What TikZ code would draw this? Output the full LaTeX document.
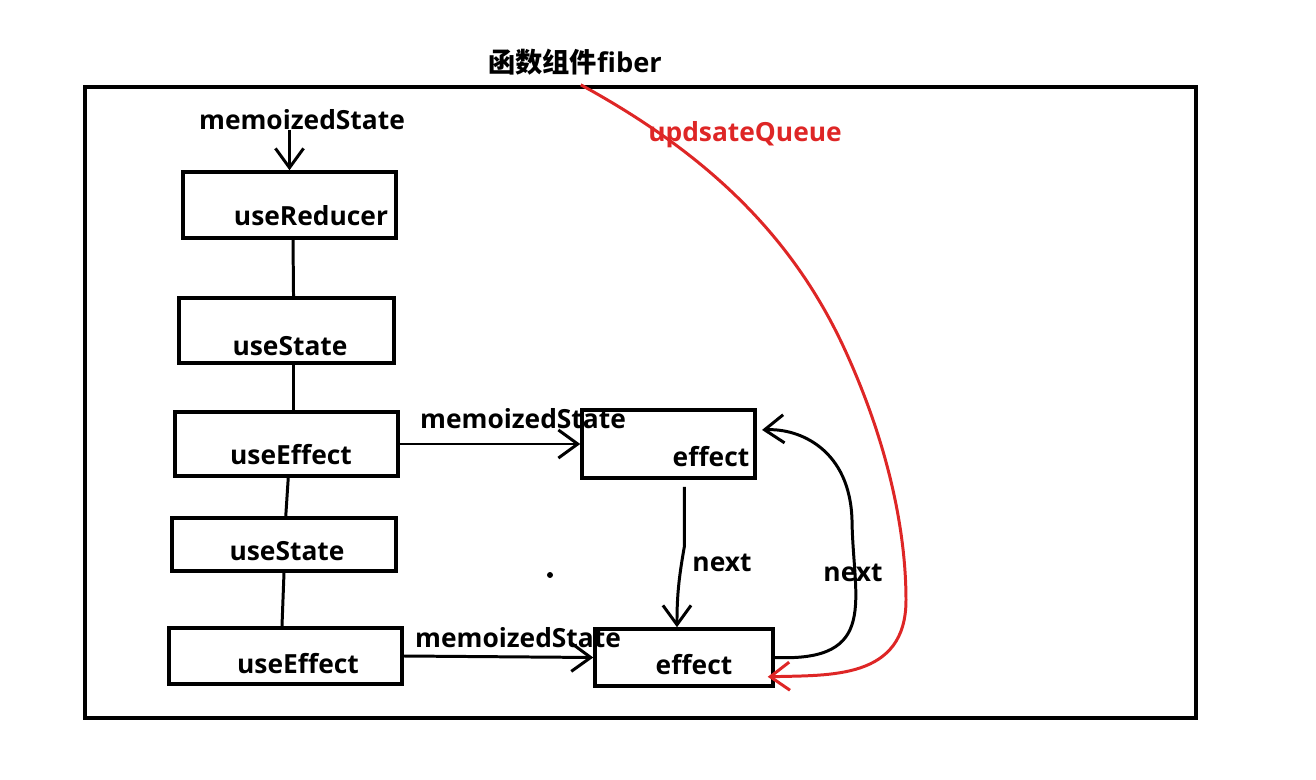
\documentclass[tikz,border=0pt]{standalone}
\usepackage{fontspec}
\setmainfont{Open Sans}
\newfontfamily\cjk{Noto Sans CJK SC}
\usetikzlibrary{arrows.meta}
\usetikzlibrary{fit}

\definecolor{queuered}{RGB}{222, 38, 38}

\tikzset{
    hookbox/.style={draw, line width=2pt, inner sep=0pt},
    hooktext/.style={font=\fontsize{15}{18}\selectfont\bfseries, inner sep=0pt},
    link/.style={line width=1.7pt},
    pointer/.style={line width=1.7pt, -{Straight Barb[length=11pt, width=16pt, line width=1.7pt]}},
}

\begin{document}
\begin{tikzpicture}[x=0.02cm, y=-0.02cm]

    \useasboundingbox (0, 0) rectangle (1316, 780);

    % The fiber frame
    \node[hookbox, line width=2.5pt, fit={(85, 87) (1196, 718)}] (fiber) {};
    \node[hooktext, font=\fontsize{15.5}{18}\selectfont\bfseries] (title) at (575, 62) {{\cjk 函数组件}fiber};

    % Hook list
    \node[hookbox, fit={(183, 172) (396, 238)}] (reducer) {};
    \node[hookbox, fit={(179, 298) (394, 363)}] (stateA) {};
    \node[hookbox, fit={(175, 412) (398, 476)}] (effectA) {};
    \node[hookbox, fit={(172, 518) (396, 571)}] (stateB) {};
    \node[hookbox, fit={(169, 628) (402, 684)}] (effectB) {};

    \node[hooktext] (reducerText) at (311, 216) {useReducer};
    \node[hooktext] (stateAText) at (290, 346) {useState};
    \node[hooktext] (effectAText) at (291, 455) {useEffect};
    \node[hooktext] (stateBText) at (287, 551) {useState};
    \node[hooktext] (effectBText) at (298, 664) {useEffect};

    % Effect list
    \node[hookbox, fit={(582, 410) (755, 478)}] (effOne) {};
    \node[hookbox, fit={(595, 629) (773, 686)}] (effTwo) {};
    \node[hooktext] (effOneText) at (711, 457) {effect};
    \node[hooktext] (effTwoText) at (694, 665) {effect};

    % memoizedState pointers
    \node[hooktext] (memoTop) at (302, 120) {memoizedState};
    \node[hooktext] (memoOne) at (523, 419) {memoizedState};
    \node[hooktext] (memoTwo) at (518, 638) {memoizedState};

    \draw[pointer] (memoTop.south -| reducer.north) -- (reducer.north);
    \draw[pointer] (effectA.east) -- (effOne.west);
    \draw[pointer] (effectB.east) -- (effTwo.west);

    % Split hooks
    \draw[link] ([xshift=2pt]reducer.south) -- ([xshift=4pt]stateA.north);
    \draw[link] ([xshift=4pt]stateA.south) -- ([xshift=4pt]effectA.north);
    \draw[link] ([xshift=1pt]effectA.south) -- ([xshift=1pt]stateB.north);
    \draw[link] (stateB.south) -- ([xshift=-2pt]effectB.north);

    % next pointers
    \draw[pointer] ([xshift=9pt, yshift=-4pt]effOne.south) -- ++(0, 60) to[out=-100, in=90] ([xshift=-4pt]effTwo.north);
    \node[hooktext] (nextOne) at (722, 563) {next};

    \draw[pointer] (effTwo.east) .. controls (880, 662) and (853, 600) .. (852, 520)
        .. controls (850, 450) and (800, 428) .. ([xshift=3pt, yshift=8pt]effOne.east);
    \node[hooktext] (nextTwo) at (853, 573) {next};

    % updateQueue
    \draw[pointer, queuered] ([xshift=-34pt]fiber.north) .. controls (700, 150) and (790, 230) .. (845, 350)
        .. controls (900, 470) and (906, 560) .. (906, 600)
        .. controls (906, 680) and (830, 675) .. ([xshift=-4pt, yshift=-11pt]effTwo.east);
    \node[hooktext, text=queuered] (queue) at (745, 135) {updsateQueue};

    \node[circle, fill, inner sep=1.2pt] (dot) at (550, 575) {};

\end{tikzpicture}
\end{document}
